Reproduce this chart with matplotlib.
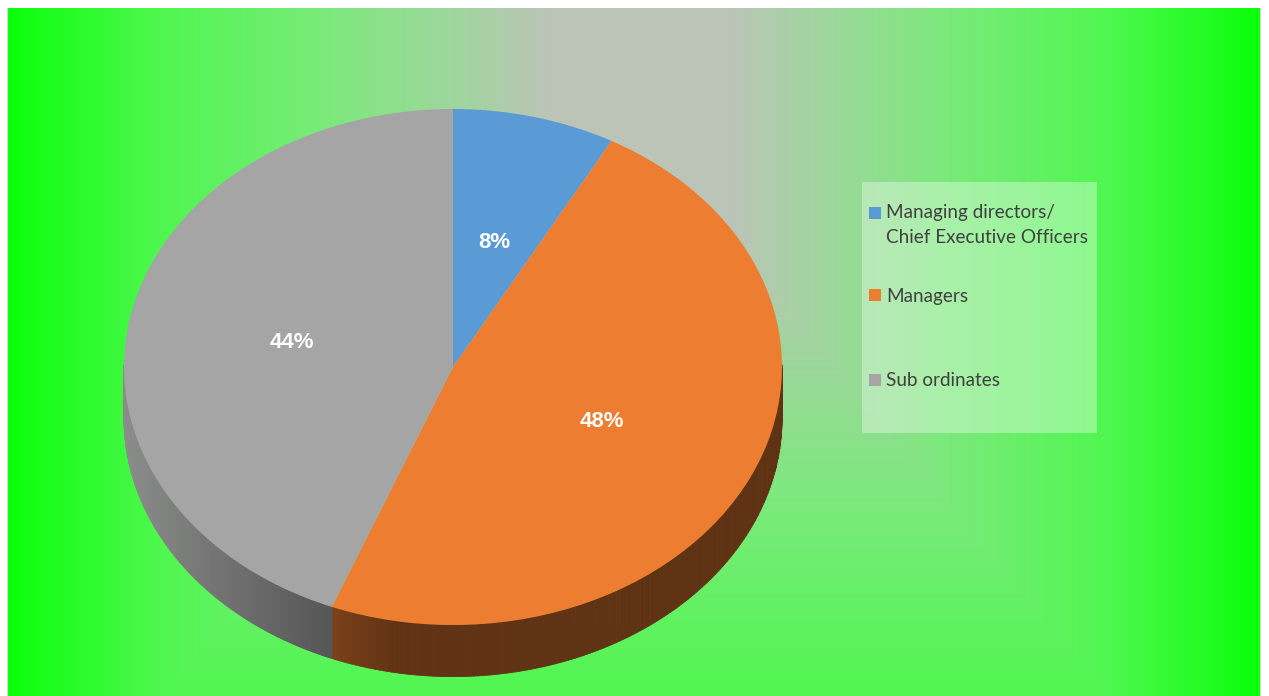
import numpy as np
import matplotlib
matplotlib.use("Agg")
import matplotlib.pyplot as plt
from matplotlib.patches import Rectangle
from matplotlib.collections import PolyCollection
from matplotlib.colors import LinearSegmentedColormap, to_rgb
from matplotlib.legend_handler import HandlerPatch

labels = ["Managing directors/\nChief Executive Officers", "Managers", "Sub ordinates"]
shares = [8, 48, 44]
colors = ["#5B9BD5", "#ED7D31", "#A5A5A5"]

W, H = 1269, 696
fig = plt.figure(figsize=(W / 100, H / 100), dpi=100)

# background: grey in the middle fading out to green at the edges
bg = fig.add_axes([0, 0, 1, 1])
bg.set_xlim(0, W)
bg.set_ylim(H, 0)
bg.axis("off")
xx, yy = np.meshgrid(np.arange(7, 1260) + 0.5, np.arange(8, 696) + 0.5)
tx = np.clip(np.maximum((550 - xx) / 543, (xx - 730) / 530), 0, 1)
ty = np.clip((yy - 240) / 642, 0, 1)
t = np.maximum(tx, ty)
grad = LinearSegmentedColormap.from_list(
    "bg", [(0, "#bcc4b8"), (0.14, "#a5d3a3"), (0.42, "#7aea7a"), (0.72, "#4ff74f"), (1, "#0aff0a")])
bg.imshow(t, cmap=grad, vmin=0, vmax=1, extent=(7, 1260, 696, 8),
          aspect="auto", interpolation="nearest")
bg.plot([7, 7], [8, 696], color="#d4d4d4", lw=0.8)
bg.plot([1260, 1260], [8, 696], color="#d4d4d4", lw=0.8)
# legend panel
bg.add_patch(Rectangle((862, 182), 235, 251, facecolor="white", alpha=0.35, lw=0))

# pie, top face
ax = fig.add_axes([0, 0, 1, 1])
ax.patch.set_alpha(0)
wedges, texts, autotexts = ax.pie(
    shares, colors=colors, startangle=90, counterclock=False,
    autopct="%1.0f%%", pctdistance=0.5, wedgeprops=dict(linewidth=0),
    textprops=dict(color="white", fontsize=16, fontweight="bold", family="Liberation Sans"))
ax.set_aspect("auto")
ax.set_xlim(-1.3769, 2.4802)
ax.set_ylim(-1.2752, 1.4225)
ax.axis("off")

# pie, front side walls
depth = 0.2


def side_shade(x):
    return np.interp(x, [-1, -0.37, -0.17, 1], [0.85, 0.52, 0.41, 0.40])


for w in wedges:
    phi = np.radians(np.linspace(w.theta1, w.theta2, 240))
    px = w.center[0] + w.r * np.cos(phi)
    py = w.center[1] + w.r * np.sin(phi)
    base = np.array(to_rgb(w.get_facecolor()))
    quads, fcs = [], []
    for i in range(len(phi) - 1):
        if min(py[i], py[i + 1]) > 0:
            continue
        quads.append([(px[i], py[i]), (px[i + 1], py[i + 1]),
                      (px[i + 1], py[i + 1] - depth), (px[i], py[i] - depth)])
        fcs.append(np.clip(base * side_shade((px[i] + px[i + 1]) / 2), 0, 1))
    if quads:
        ax.add_collection(PolyCollection(quads, facecolors=fcs, edgecolors=fcs,
                                         linewidths=0.6, zorder=0.5))

leg_labels = [labels[0], labels[1], "\n" + labels[2]]
half_line = 9  # points


def square(legend, orig_handle, xdescent, ydescent, width, height, fontsize):
    # square sits next to the first line of a two-line label, the last line for the padded one
    lift = 0
    if orig_handle is wedges[0]:
        lift = half_line
    elif orig_handle is wedges[2]:
        lift = -half_line
    return Rectangle((-xdescent, -ydescent + lift), width, height)


leg = ax.legend(wedges, leg_labels, handler_map={w: HandlerPatch(patch_func=square) for w in wedges},
                loc="upper left", bbox_to_anchor=(869 / W, 1 - 204 / H), bbox_transform=fig.transFigure,
                frameon=False, borderpad=0, borderaxespad=0, handlelength=0.62, handleheight=0.62,
                handletextpad=0.3, labelspacing=2.2, prop=dict(family="Lato", size=13.6),
                labelcolor="#404040")
for txt in leg.get_texts():
    txt.set_linespacing(1.59)

fig.savefig("out.png", dpi=100)
